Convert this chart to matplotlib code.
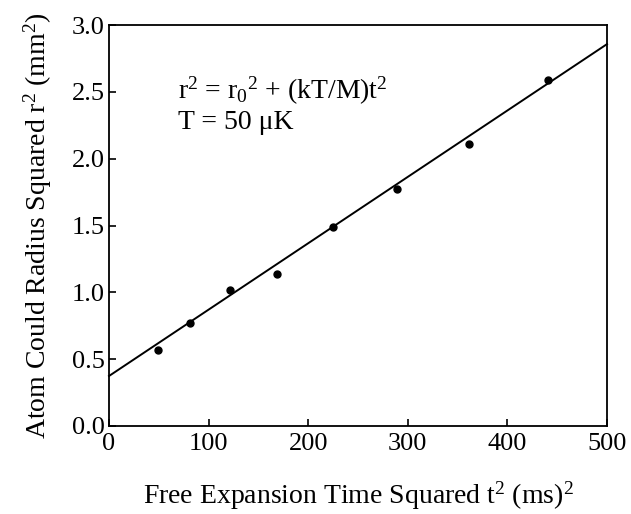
import matplotlib
matplotlib.use("Agg")
import matplotlib.pyplot as plt

t2 = [49, 81, 121, 169, 225, 289, 361, 441]
r2 = [0.57, 0.77, 1.02, 1.14, 1.49, 1.77, 2.11, 2.59]
fit_x = [0, 500]
fit_y = [0.374, 2.857]
xticks = [0, 100, 200, 300, 400, 500]
yticks = [0.0, 0.5, 1.0, 1.5, 2.0, 2.5, 3.0]

plt.rcParams['font.family'] = ['Liberation Serif', 'DejaVu Serif']
plt.rcParams['mathtext.fontset'] = 'custom'
plt.rcParams['mathtext.rm'] = 'Liberation Serif'
plt.rcParams['mathtext.it'] = 'Liberation Serif:italic'
plt.rcParams['mathtext.bf'] = 'Liberation Serif:bold'

W, H = 631, 514
fig = plt.figure(figsize=(W/100, H/100), dpi=100)
L, R, T, B = 109, 607, 25, 426
ax = fig.add_axes([L/W, 1-B/H, (R-L)/W, (B-T)/H])
ax.plot(fit_x, fit_y, color='black', lw=1.4, clip_on=False)
ax.plot(t2, r2, 'o', color='black', ms=5)
ax.set_xlim(0, 500)
ax.set_ylim(0, 3.0)
ax.set_xticks(xticks)
ax.set_yticks(yticks)
ax.set_xticklabels([str(v) for v in xticks])
ax.set_yticklabels([f"{v:.1f}" for v in yticks])
ax.tick_params(direction='in', length=5, width=1.2, labelsize=19, top=False, right=False)
ax.tick_params(axis='x', pad=5)
ax.tick_params(axis='y', pad=3)
for s in ax.spines.values():
    s.set_linewidth(1.3)
ax.set_xlabel("Free Expansion Time Squared t$^2$ (ms)$^2$", fontsize=20, labelpad=18)
ax.set_ylabel("Atom Could Radius Squared r$^2$ (mm$^2$)", fontsize=20, labelpad=13)
fig.text(178/W, 1-99/H, "r$^2$ = r$_0$$^2$ + (kT/M)t$^2$", fontsize=20, va='baseline')
fig.text(178/W, 1-129/H, "T = 50 μK", fontsize=20, va='baseline')
fig.savefig("out.png", dpi=100)
